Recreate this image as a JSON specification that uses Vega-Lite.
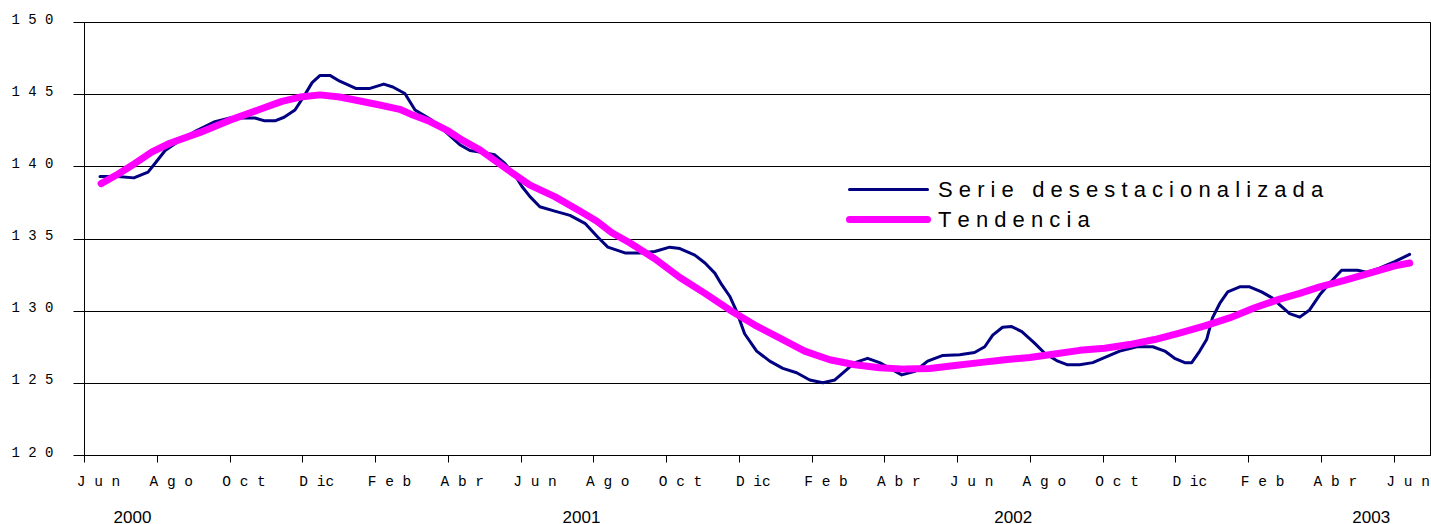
{
  "$schema": "https://vega.github.io/schema/vega-lite/v6.json",
  "autosize": {"type": "none"},
  "width": 1346,
  "height": 433,
  "padding": {"left": 84, "top": 22, "right": 1, "bottom": 69},
  "background": "white",
  "config": {
    "view": {"stroke": "black", "strokeWidth": 1},
    "axis": {"domainColor": "black", "tickColor": "black", "gridColor": "black", "gridOpacity": 1, "labelColor": "black"}
  },
  "resolve": {"axis": {"x": "independent"}},
  "layer": [
    {
      "data": {"values": [
        {"mes": 0.44, "valor": 139.3, "serie": "Serie desestacionalizada"},
        {"mes": 0.93, "valor": 139.3, "serie": "Serie desestacionalizada"},
        {"mes": 1.37, "valor": 139.2, "serie": "Serie desestacionalizada"},
        {"mes": 1.76, "valor": 139.6, "serie": "Serie desestacionalizada"},
        {"mes": 1.95, "valor": 140.2, "serie": "Serie desestacionalizada"},
        {"mes": 2.23, "valor": 141.1, "serie": "Serie desestacionalizada"},
        {"mes": 2.64, "valor": 141.8, "serie": "Serie desestacionalizada"},
        {"mes": 3.11, "valor": 142.5, "serie": "Serie desestacionalizada"},
        {"mes": 3.6, "valor": 143.1, "serie": "Serie desestacionalizada"},
        {"mes": 4.01, "valor": 143.35, "serie": "Serie desestacionalizada"},
        {"mes": 4.7, "valor": 143.35, "serie": "Serie desestacionalizada"},
        {"mes": 4.97, "valor": 143.15, "serie": "Serie desestacionalizada"},
        {"mes": 5.25, "valor": 143.15, "serie": "Serie desestacionalizada"},
        {"mes": 5.5, "valor": 143.4, "serie": "Serie desestacionalizada"},
        {"mes": 5.8, "valor": 143.9, "serie": "Serie desestacionalizada"},
        {"mes": 6.07, "valor": 144.95, "serie": "Serie desestacionalizada"},
        {"mes": 6.27, "valor": 145.8, "serie": "Serie desestacionalizada"},
        {"mes": 6.49, "valor": 146.3, "serie": "Serie desestacionalizada"},
        {"mes": 6.76, "valor": 146.3, "serie": "Serie desestacionalizada"},
        {"mes": 7.03, "valor": 145.9, "serie": "Serie desestacionalizada"},
        {"mes": 7.47, "valor": 145.4, "serie": "Serie desestacionalizada"},
        {"mes": 7.86, "valor": 145.4, "serie": "Serie desestacionalizada"},
        {"mes": 8.24, "valor": 145.7, "serie": "Serie desestacionalizada"},
        {"mes": 8.49, "valor": 145.5, "serie": "Serie desestacionalizada"},
        {"mes": 8.82, "valor": 145.05, "serie": "Serie desestacionalizada"},
        {"mes": 9.1, "valor": 143.9, "serie": "Serie desestacionalizada"},
        {"mes": 9.56, "valor": 143.2, "serie": "Serie desestacionalizada"},
        {"mes": 9.98, "valor": 142.3, "serie": "Serie desestacionalizada"},
        {"mes": 10.33, "valor": 141.5, "serie": "Serie desestacionalizada"},
        {"mes": 10.61, "valor": 141.1, "serie": "Serie desestacionalizada"},
        {"mes": 10.88, "valor": 141.0, "serie": "Serie desestacionalizada"},
        {"mes": 11.29, "valor": 140.8, "serie": "Serie desestacionalizada"},
        {"mes": 11.57, "valor": 140.2, "serie": "Serie desestacionalizada"},
        {"mes": 11.84, "valor": 139.4, "serie": "Serie desestacionalizada"},
        {"mes": 12.04, "valor": 138.6, "serie": "Serie desestacionalizada"},
        {"mes": 12.26, "valor": 137.9, "serie": "Serie desestacionalizada"},
        {"mes": 12.53, "valor": 137.2, "serie": "Serie desestacionalizada"},
        {"mes": 12.94, "valor": 136.9, "serie": "Serie desestacionalizada"},
        {"mes": 13.36, "valor": 136.6, "serie": "Serie desestacionalizada"},
        {"mes": 13.77, "valor": 136.05, "serie": "Serie desestacionalizada"},
        {"mes": 14.12, "valor": 135.1, "serie": "Serie desestacionalizada"},
        {"mes": 14.4, "valor": 134.4, "serie": "Serie desestacionalizada"},
        {"mes": 14.87, "valor": 134.0, "serie": "Serie desestacionalizada"},
        {"mes": 15.28, "valor": 134.0, "serie": "Serie desestacionalizada"},
        {"mes": 15.69, "valor": 134.1, "serie": "Serie desestacionalizada"},
        {"mes": 16.1, "valor": 134.4, "serie": "Serie desestacionalizada"},
        {"mes": 16.38, "valor": 134.3, "serie": "Serie desestacionalizada"},
        {"mes": 16.79, "valor": 133.85, "serie": "Serie desestacionalizada"},
        {"mes": 17.07, "valor": 133.3, "serie": "Serie desestacionalizada"},
        {"mes": 17.34, "valor": 132.6, "serie": "Serie desestacionalizada"},
        {"mes": 17.53, "valor": 131.8, "serie": "Serie desestacionalizada"},
        {"mes": 17.75, "valor": 131.0, "serie": "Serie desestacionalizada"},
        {"mes": 17.94, "valor": 129.95, "serie": "Serie desestacionalizada"},
        {"mes": 18.16, "valor": 128.4, "serie": "Serie desestacionalizada"},
        {"mes": 18.49, "valor": 127.2, "serie": "Serie desestacionalizada"},
        {"mes": 18.85, "valor": 126.5, "serie": "Serie desestacionalizada"},
        {"mes": 19.21, "valor": 126.0, "serie": "Serie desestacionalizada"},
        {"mes": 19.59, "valor": 125.7, "serie": "Serie desestacionalizada"},
        {"mes": 19.95, "valor": 125.2, "serie": "Serie desestacionalizada"},
        {"mes": 20.31, "valor": 125.0, "serie": "Serie desestacionalizada"},
        {"mes": 20.64, "valor": 125.2, "serie": "Serie desestacionalizada"},
        {"mes": 20.91, "valor": 125.8, "serie": "Serie desestacionalizada"},
        {"mes": 21.19, "valor": 126.4, "serie": "Serie desestacionalizada"},
        {"mes": 21.54, "valor": 126.7, "serie": "Serie desestacionalizada"},
        {"mes": 21.87, "valor": 126.4, "serie": "Serie desestacionalizada"},
        {"mes": 22.23, "valor": 125.9, "serie": "Serie desestacionalizada"},
        {"mes": 22.48, "valor": 125.55, "serie": "Serie desestacionalizada"},
        {"mes": 22.84, "valor": 125.8, "serie": "Serie desestacionalizada"},
        {"mes": 23.19, "valor": 126.5, "serie": "Serie desestacionalizada"},
        {"mes": 23.61, "valor": 126.9, "serie": "Serie desestacionalizada"},
        {"mes": 24.07, "valor": 126.95, "serie": "Serie desestacionalizada"},
        {"mes": 24.48, "valor": 127.1, "serie": "Serie desestacionalizada"},
        {"mes": 24.76, "valor": 127.5, "serie": "Serie desestacionalizada"},
        {"mes": 24.98, "valor": 128.3, "serie": "Serie desestacionalizada"},
        {"mes": 25.25, "valor": 128.85, "serie": "Serie desestacionalizada"},
        {"mes": 25.5, "valor": 128.9, "serie": "Serie desestacionalizada"},
        {"mes": 25.78, "valor": 128.55, "serie": "Serie desestacionalizada"},
        {"mes": 26.13, "valor": 127.75, "serie": "Serie desestacionalizada"},
        {"mes": 26.41, "valor": 127.05, "serie": "Serie desestacionalizada"},
        {"mes": 26.77, "valor": 126.5, "serie": "Serie desestacionalizada"},
        {"mes": 27.04, "valor": 126.25, "serie": "Serie desestacionalizada"},
        {"mes": 27.37, "valor": 126.25, "serie": "Serie desestacionalizada"},
        {"mes": 27.73, "valor": 126.4, "serie": "Serie desestacionalizada"},
        {"mes": 28.0, "valor": 126.7, "serie": "Serie desestacionalizada"},
        {"mes": 28.47, "valor": 127.2, "serie": "Serie desestacionalizada"},
        {"mes": 28.94, "valor": 127.5, "serie": "Serie desestacionalizada"},
        {"mes": 29.38, "valor": 127.5, "serie": "Serie desestacionalizada"},
        {"mes": 29.71, "valor": 127.2, "serie": "Serie desestacionalizada"},
        {"mes": 29.98, "valor": 126.7, "serie": "Serie desestacionalizada"},
        {"mes": 30.26, "valor": 126.4, "serie": "Serie desestacionalizada"},
        {"mes": 30.45, "valor": 126.4, "serie": "Serie desestacionalizada"},
        {"mes": 30.67, "valor": 127.2, "serie": "Serie desestacionalizada"},
        {"mes": 30.86, "valor": 128.0, "serie": "Serie desestacionalizada"},
        {"mes": 31.02, "valor": 129.5, "serie": "Serie desestacionalizada"},
        {"mes": 31.22, "valor": 130.5, "serie": "Serie desestacionalizada"},
        {"mes": 31.44, "valor": 131.3, "serie": "Serie desestacionalizada"},
        {"mes": 31.77, "valor": 131.65, "serie": "Serie desestacionalizada"},
        {"mes": 32.04, "valor": 131.65, "serie": "Serie desestacionalizada"},
        {"mes": 32.37, "valor": 131.3, "serie": "Serie desestacionalizada"},
        {"mes": 32.65, "valor": 130.9, "serie": "Serie desestacionalizada"},
        {"mes": 32.87, "valor": 130.4, "serie": "Serie desestacionalizada"},
        {"mes": 33.14, "valor": 129.8, "serie": "Serie desestacionalizada"},
        {"mes": 33.42, "valor": 129.55, "serie": "Serie desestacionalizada"},
        {"mes": 33.69, "valor": 130.05, "serie": "Serie desestacionalizada"},
        {"mes": 33.97, "valor": 131.1, "serie": "Serie desestacionalizada"},
        {"mes": 34.24, "valor": 131.9, "serie": "Serie desestacionalizada"},
        {"mes": 34.57, "valor": 132.8, "serie": "Serie desestacionalizada"},
        {"mes": 35.01, "valor": 132.8, "serie": "Serie desestacionalizada"},
        {"mes": 35.28, "valor": 132.65, "serie": "Serie desestacionalizada"},
        {"mes": 35.61, "valor": 132.95, "serie": "Serie desestacionalizada"},
        {"mes": 36.03, "valor": 133.4, "serie": "Serie desestacionalizada"},
        {"mes": 36.44, "valor": 133.9, "serie": "Serie desestacionalizada"},
        {"mes": 0.47, "valor": 138.8, "serie": "Tendencia"},
        {"mes": 0.93, "valor": 139.45, "serie": "Tendencia"},
        {"mes": 1.4, "valor": 140.2, "serie": "Tendencia"},
        {"mes": 1.87, "valor": 141.0, "serie": "Tendencia"},
        {"mes": 2.36, "valor": 141.6, "serie": "Tendencia"},
        {"mes": 3.19, "valor": 142.35, "serie": "Tendencia"},
        {"mes": 4.01, "valor": 143.2, "serie": "Tendencia"},
        {"mes": 4.84, "valor": 143.95, "serie": "Tendencia"},
        {"mes": 5.44, "valor": 144.5, "serie": "Tendencia"},
        {"mes": 5.94, "valor": 144.8, "serie": "Tendencia"},
        {"mes": 6.49, "valor": 144.95, "serie": "Tendencia"},
        {"mes": 7.03, "valor": 144.8, "serie": "Tendencia"},
        {"mes": 7.45, "valor": 144.6, "serie": "Tendencia"},
        {"mes": 8.13, "valor": 144.25, "serie": "Tendencia"},
        {"mes": 8.68, "valor": 143.95, "serie": "Tendencia"},
        {"mes": 9.04, "valor": 143.55, "serie": "Tendencia"},
        {"mes": 9.51, "valor": 143.1, "serie": "Tendencia"},
        {"mes": 9.98, "valor": 142.5, "serie": "Tendencia"},
        {"mes": 10.41, "valor": 141.8, "serie": "Tendencia"},
        {"mes": 10.88, "valor": 141.15, "serie": "Tendencia"},
        {"mes": 11.57, "valor": 139.9, "serie": "Tendencia"},
        {"mes": 12.26, "valor": 138.7, "serie": "Tendencia"},
        {"mes": 12.94, "valor": 137.9, "serie": "Tendencia"},
        {"mes": 13.63, "valor": 136.9, "serie": "Tendencia"},
        {"mes": 14.1, "valor": 136.2, "serie": "Tendencia"},
        {"mes": 14.51, "valor": 135.4, "serie": "Tendencia"},
        {"mes": 15.0, "valor": 134.7, "serie": "Tendencia"},
        {"mes": 15.69, "valor": 133.6, "serie": "Tendencia"},
        {"mes": 16.38, "valor": 132.3, "serie": "Tendencia"},
        {"mes": 17.07, "valor": 131.2, "serie": "Tendencia"},
        {"mes": 17.75, "valor": 130.05, "serie": "Tendencia"},
        {"mes": 18.44, "valor": 129.0, "serie": "Tendencia"},
        {"mes": 19.13, "valor": 128.1, "serie": "Tendencia"},
        {"mes": 19.81, "valor": 127.2, "serie": "Tendencia"},
        {"mes": 20.5, "valor": 126.6, "serie": "Tendencia"},
        {"mes": 21.19, "valor": 126.25, "serie": "Tendencia"},
        {"mes": 21.87, "valor": 126.05, "serie": "Tendencia"},
        {"mes": 22.56, "valor": 125.95, "serie": "Tendencia"},
        {"mes": 23.25, "valor": 126.0, "serie": "Tendencia"},
        {"mes": 23.94, "valor": 126.2, "serie": "Tendencia"},
        {"mes": 24.62, "valor": 126.4, "serie": "Tendencia"},
        {"mes": 25.31, "valor": 126.6, "serie": "Tendencia"},
        {"mes": 26.0, "valor": 126.75, "serie": "Tendencia"},
        {"mes": 26.68, "valor": 127.0, "serie": "Tendencia"},
        {"mes": 27.37, "valor": 127.25, "serie": "Tendencia"},
        {"mes": 28.06, "valor": 127.4, "serie": "Tendencia"},
        {"mes": 28.74, "valor": 127.65, "serie": "Tendencia"},
        {"mes": 29.43, "valor": 128.0, "serie": "Tendencia"},
        {"mes": 30.11, "valor": 128.45, "serie": "Tendencia"},
        {"mes": 30.81, "valor": 128.95, "serie": "Tendencia"},
        {"mes": 31.49, "valor": 129.5, "serie": "Tendencia"},
        {"mes": 32.18, "valor": 130.2, "serie": "Tendencia"},
        {"mes": 32.87, "valor": 130.8, "serie": "Tendencia"},
        {"mes": 33.42, "valor": 131.2, "serie": "Tendencia"},
        {"mes": 33.97, "valor": 131.65, "serie": "Tendencia"},
        {"mes": 34.65, "valor": 132.1, "serie": "Tendencia"},
        {"mes": 35.34, "valor": 132.6, "serie": "Tendencia"},
        {"mes": 36.03, "valor": 133.1, "serie": "Tendencia"},
        {"mes": 36.44, "valor": 133.3, "serie": "Tendencia"}
      ]},
      "mark": {"type": "line", "strokeCap": "round", "strokeJoin": "round", "clip": true},
      "encoding": {
        "x": {
          "field": "mes", "type": "quantitative",
          "scale": {"domain": [0, 37], "nice": false, "zero": false},
          "axis": {
            "title": null, "grid": false,
            "values": [0, 2, 4, 6, 8, 10, 12, 14, 16, 18, 20, 22, 24, 26, 28, 30, 32, 34, 36],
            "labelExpr": "['J u n', 'A g o', 'O c t', 'D ic', 'F e b', 'A b r'][(datum.value % 12) / 2]",
            "labelFont": "Liberation Mono", "labelFontSize": 14.5,
            "labelAlign": "center", "labelOffset": 14, "labelBaseline": "top",
            "tickSize": 7, "labelPadding": 12, "labelFlush": false, "labelOverlap": false
          }
        },
        "y": {
          "field": "valor", "type": "quantitative",
          "scale": {"domain": [120, 150], "nice": false, "zero": false},
          "axis": {
            "title": null, "grid": true,
            "values": [120, 125, 130, 135, 140, 145, 150],
            "labelExpr": "join(split(datum.label, ''), ' ')",
            "labelFont": "Liberation Mono", "labelFontSize": 14,
            "tickSize": 11, "labelPadding": 20, "labelOffset": -3
          }
        },
        "color": {
          "field": "serie", "type": "nominal",
          "scale": {"domain": ["Serie desestacionalizada", "Tendencia"], "range": ["#000080", "#FF00FF"]},
          "legend": {
            "title": null, "orient": "none", "legendX": 786, "legendY": 151,
            "symbolType": "M -2.6 0 L 2.6 0", "symbolSize": 900,
            "labelFont": "Liberation Sans", "labelFontSize": 22, "labelColor": "black",
            "labelExpr": "join(split(datum.label, ''), '\u00a0')",
            "labelOffset": 31, "rowPadding": 0, "labelLimit": 700,
            "encode": {"symbols": {"update": {"strokeCap": {"value": "round"}}}}
          }
        },
        "strokeWidth": {
          "field": "serie", "type": "nominal",
          "scale": {"domain": ["Serie desestacionalizada", "Tendencia"], "range": [3, 7]},
          "legend": null
        }
      }
    },
    {
      "data": {"values": [
        {"año": "2000", "mes": 1.32},
        {"año": "2001", "mes": 13.66},
        {"año": "2002", "mes": 25.53},
        {"año": "2003", "mes": 35.37}
      ]},
      "mark": {"type": "point", "opacity": 0},
      "encoding": {
        "x": {
          "field": "mes", "type": "quantitative",
          "axis": {
            "orient": "bottom", "title": null, "grid": false, "domain": false, "ticks": false, "tickSize": 0,
            "values": [1.32, 13.66, 25.53, 35.37],
            "labelExpr": "datum.value < 6 ? '2000' : datum.value < 20 ? '2001' : datum.value < 30 ? '2002' : '2003'",
            "labelFont": "Liberation Sans", "labelFontSize": 17, "labelBaseline": "top",
            "labelPadding": 54, "labelFlush": false, "labelOverlap": false
          }
        }
      }
    }
  ]
}
